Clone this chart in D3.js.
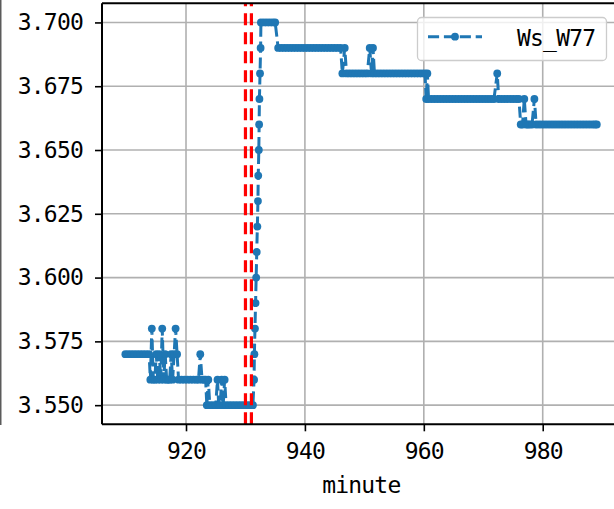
<!DOCTYPE html>
<html><head><meta charset="utf-8">
<script src="https://cdn.jsdelivr.net/npm/d3@7"></script>
<style>html,body{margin:0;padding:0;background:#fff;}svg{display:block;}</style>
</head><body>
<svg id="c" width="614" height="509"></svg>
<script>
// ---- data ----
const seriesName = "Ws_W77";
const minutes = [
  909.8, 910.3, 910.8, 911.3, 911.8, 912.3, 912.8, 913.3, 913.8,
  914.0, 914.25, 914.5, 914.75, 915.0, 915.25, 915.5, 915.75, 916.0, 916.25,
  916.5, 916.75, 917.0, 917.25, 917.5, 917.75, 918.0, 918.25, 918.5, 918.75,
  919.25, 919.75, 920.25, 920.75, 921.25, 921.75, 922.1, 922.4, 922.7, 923.0,
  923.3, 923.5, 923.75, 924.0, 924.5, 925.0, 925.3, 925.5, 925.75, 926.0,
  926.25, 926.5, 926.75, 927.25, 927.75, 928.25, 928.75, 929.25, 929.75,
  930.25, 930.75, 931.25,
  931.45, 931.5, 931.6, 931.7, 931.8, 931.9, 932.0, 932.1, 932.15, 932.25,
  932.3, 932.35, 932.45, 932.55,
  932.6, 933.1, 933.6, 934.1, 934.6, 935.0,
  935.5, 936.0, 936.5, 937.0, 937.5, 938.0, 938.5, 939.0, 939.5, 940.0,
  940.5, 941.0, 941.5, 942.0, 942.5, 943.0, 943.5, 944.0, 944.5, 945.0,
  945.5, 946.0,
  946.3, 946.7, 947.0, 947.5, 948.0, 948.5, 949.0, 949.5, 950.0,
  950.5, 950.9, 951.2, 951.45, 951.7,
  952.2, 952.7, 953.2, 953.7, 954.2, 954.7, 955.2, 955.7, 956.2, 956.7,
  957.2, 957.7, 958.2, 958.7, 959.2, 959.7, 960.2,
  960.4, 960.6, 960.8,
  961.3, 961.8, 962.3, 962.8, 963.3, 963.8, 964.3, 964.8, 965.3, 965.8,
  966.3, 966.8, 967.3, 967.8, 968.3, 968.8, 969.3, 969.8, 970.3, 970.8,
  971.3, 971.8,
  972.35, 972.6, 973.1, 973.6, 974.1, 974.6, 975.1, 975.6, 976.0,
  976.3, 976.6, 976.9, 977.2, 977.5, 977.8, 978.2, 978.6, 978.9,
  979.4, 979.9, 980.4, 980.9, 981.4, 981.9, 982.4, 982.9, 983.4, 983.9,
  984.4, 984.9, 985.4, 985.9, 986.4, 986.9, 987.4, 987.9, 988.4, 988.8, 989.1
];
const voltage = [
  3.57, 3.57, 3.57, 3.57, 3.57, 3.57, 3.57, 3.57, 3.57,
  3.56, 3.58, 3.56, 3.56, 3.57, 3.56, 3.57, 3.56, 3.58, 3.56,
  3.57, 3.56, 3.56, 3.56, 3.57, 3.56, 3.57, 3.58, 3.57, 3.56,
  3.56, 3.56, 3.56, 3.56, 3.56, 3.56, 3.56, 3.57, 3.56, 3.56,
  3.56, 3.55, 3.56, 3.55, 3.55, 3.55, 3.56, 3.55, 3.55, 3.56,
  3.55, 3.56, 3.55, 3.55, 3.55, 3.55, 3.55, 3.55, 3.55,
  3.55, 3.55, 3.55,
  3.56, 3.57, 3.58, 3.59, 3.60, 3.61, 3.62, 3.63, 3.64, 3.65,
  3.66, 3.67, 3.68, 3.69,
  3.70, 3.70, 3.70, 3.70, 3.70, 3.70,
  3.69, 3.69, 3.69, 3.69, 3.69, 3.69, 3.69, 3.69, 3.69, 3.69,
  3.69, 3.69, 3.69, 3.69, 3.69, 3.69, 3.69, 3.69, 3.69, 3.69,
  3.69, 3.69,
  3.68, 3.69, 3.68, 3.68, 3.68, 3.68, 3.68, 3.68, 3.68,
  3.68, 3.69, 3.68, 3.69, 3.68,
  3.68, 3.68, 3.68, 3.68, 3.68, 3.68, 3.68, 3.68, 3.68, 3.68,
  3.68, 3.68, 3.68, 3.68, 3.68, 3.68, 3.68,
  3.67, 3.68, 3.67,
  3.67, 3.67, 3.67, 3.67, 3.67, 3.67, 3.67, 3.67, 3.67, 3.67,
  3.67, 3.67, 3.67, 3.67, 3.67, 3.67, 3.67, 3.67, 3.67, 3.67,
  3.67, 3.67,
  3.68, 3.67, 3.67, 3.67, 3.67, 3.67, 3.67, 3.67, 3.67,
  3.66, 3.66, 3.67, 3.66, 3.66, 3.66, 3.66, 3.67, 3.66,
  3.66, 3.66, 3.66, 3.66, 3.66, 3.66, 3.66, 3.66, 3.66, 3.66,
  3.66, 3.66, 3.66, 3.66, 3.66, 3.66, 3.66, 3.66, 3.66, 3.66, 3.66
];
const markerLines = [930, 931];
const xTicks = [920, 940, 960, 980];
const yTicks = [3.550, 3.575, 3.600, 3.625, 3.650, 3.675, 3.700];
const xLabel = "minute";

// ---- layout ----
const svg = d3.select("#c");
const L = 102, R = 620.6, T = 3.3, B = 424.3;
const x = d3.scaleLinear().domain([905.87, 993.1]).range([L, R]);
const y = d3.scaleLinear().domain([3.5425, 3.7075]).range([B, T]);
const font = "'DejaVu Sans Mono', monospace";
const fs = 23, ls = -0.8;
const blue = "#1f77b4";

// stray left edge line
svg.append("line").attr("x1", 0.8).attr("x2", 0.8).attr("y1", 0).attr("y2", 425)
  .attr("stroke", "#333").attr("stroke-width", 1.2);

// grid
const g = svg.append("g");
g.selectAll(".gx").data(xTicks).join("line")
  .attr("x1", d => x(d)).attr("x2", d => x(d)).attr("y1", T).attr("y2", B)
  .attr("stroke", "#b0b0b0").attr("stroke-width", 1.6);
g.selectAll(".gy").data(yTicks).join("line")
  .attr("x1", L).attr("x2", R).attr("y1", d => y(d)).attr("y2", d => y(d))
  .attr("stroke", "#b0b0b0").attr("stroke-width", 1.6);

// axes
const xAxis = d3.axisBottom(x).tickValues(xTicks).tickSize(7).tickPadding(11).tickFormat(d3.format("d"));
const yAxis = d3.axisLeft(y).tickValues(yTicks).tickSize(7).tickPadding(12).tickFormat(d3.format(".3f"));
const gx = svg.append("g").attr("transform", `translate(0,${B})`).call(xAxis);
const gy = svg.append("g").attr("transform", `translate(${L},0)`).call(yAxis);
[gx, gy].forEach(a => {
  a.select(".domain").remove();
  a.selectAll(".tick line").attr("stroke", "#000").attr("stroke-width", 1.6);
  a.selectAll(".tick text").attr("font-family", font).attr("font-size", fs)
    .attr("letter-spacing", ls).attr("fill", "#000");
});

// data line
const pts = minutes.map((m, i) => [m, voltage[i]]);
const line = d3.line().x(d => x(d[0])).y(d => y(d[1]));
svg.append("path").datum(pts).attr("d", line)
  .attr("fill", "none").attr("stroke", blue).attr("stroke-width", 3)
  .attr("stroke-dasharray", "11.1,4.8").attr("stroke-linejoin", "round");
svg.append("g").selectAll("circle").data(pts).join("circle")
  .attr("cx", d => x(d[0])).attr("cy", d => y(d[1])).attr("r", 3.9).attr("fill", blue);

// red vertical lines
svg.append("g").selectAll("line").data(markerLines).join("line")
  .attr("x1", d => x(d)).attr("x2", d => x(d)).attr("y1", B).attr("y2", T)
  .attr("stroke", "red").attr("stroke-width", 3.2).attr("stroke-dasharray", "12,7");

// spines
svg.append("line").attr("x1", L).attr("x2", L).attr("y1", T).attr("y2", B).attr("stroke", "#000").attr("stroke-width", 2);
svg.append("line").attr("x1", L).attr("x2", R).attr("y1", B).attr("y2", B).attr("stroke", "#000").attr("stroke-width", 2);
svg.append("line").attr("x1", L).attr("x2", R).attr("y1", T).attr("y2", T).attr("stroke", "#000").attr("stroke-width", 2);

// x label
svg.append("text").attr("x", (L + R) / 2).attr("y", 493).attr("text-anchor", "middle")
  .attr("font-family", font).attr("font-size", fs).attr("letter-spacing", ls).text(xLabel);

// legend
const lg = svg.append("g");
lg.append("rect").attr("x", 417.5).attr("y", 17.5).attr("width", 189).attr("height", 43).attr("rx", 4)
  .attr("fill", "#fff").attr("fill-opacity", 0.8).attr("stroke", "#cccccc").attr("stroke-width", 1.3);
lg.append("line").attr("x1", 428).attr("x2", 482).attr("y1", 36.7).attr("y2", 36.7)
  .attr("stroke", blue).attr("stroke-width", 3).attr("stroke-dasharray", "11.1,4.8");
lg.append("circle").attr("cx", 455).attr("cy", 36.7).attr("r", 3.9).attr("fill", blue);
lg.append("text").attr("x", 517).attr("y", 46).attr("font-family", font).attr("font-size", fs)
  .attr("letter-spacing", ls).text(seriesName);
</script>
</body></html>
